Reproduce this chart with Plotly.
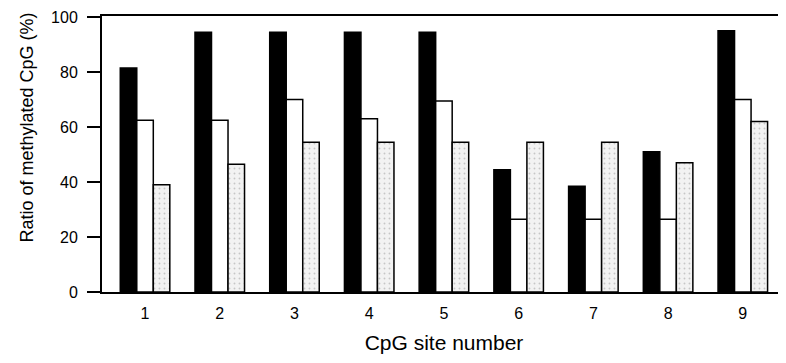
import plotly.graph_objects as go

sites = [1, 2, 3, 4, 5, 6, 7, 8, 9]
site_labels = ["1", "2", "3", "4", "5", "6", "7", "8", "9"]
black_vals = [81.5, 94.5, 94.5, 94.5, 94.5, 44.5, 38.5, 51, 95]
white_vals = [62.5, 62.5, 70, 63, 69.5, 26.5, 26.5, 26.5, 70]
gray_vals = [39, 46.5, 54.5, 54.5, 54.5, 54.5, 54.5, 47, 62]
y_ticks = [0, 20, 40, 60, 80, 100]

FONT = "Liberation Sans, Arial, Helvetica, sans-serif"
edge = dict(color="black", width=1.5)

fig = go.Figure()
fig.add_trace(go.Bar(x=sites, y=black_vals, marker=dict(color="black", line=edge), name="a"))
fig.add_trace(go.Bar(x=sites, y=white_vals, marker=dict(color="white", line=edge), name="b"))
fig.add_trace(go.Bar(x=sites, y=gray_vals,
                     marker=dict(color="#efefef", line=edge,
                                 pattern=dict(shape=".", fgcolor="#9a9a9a", bgcolor="#f2f2f2",
                                              size=5, solidity=0.12)),
                     name="c"))

# page body has an 8px default margin; size the figure so nothing overflows the window
fig.update_layout(
    width=778, height=347,
    margin=dict(l=94, r=0, t=8, b=63, autoexpand=False),
    paper_bgcolor="white", plot_bgcolor="white",
    barmode="group", bargap=0.337, bargroupgap=0,
    showlegend=False,
    font=dict(family=FONT, color="black"),
    annotations=[dict(text="Ratio of methylated CpG (%)", textangle=-90,
                      xref="paper", yref="paper", x=-0.11, y=0.595,
                      xanchor="center", yanchor="middle", showarrow=False,
                      font=dict(size=18, family=FONT))],
)
fig.update_xaxes(
    range=[0.424, 9.578], tickvals=sites, ticktext=site_labels,
    showline=True, linecolor="black", linewidth=2, mirror=True,
    ticks="outside", ticklen=6, tickcolor="rgba(0,0,0,0)",
    showgrid=False, zeroline=False, automargin=False,
    tickfont=dict(size=16, family=FONT),
    title=dict(text="CpG site number", font=dict(size=21, family=FONT), standoff=14),
)
fig.update_yaxes(
    range=[0, 100.4], tickvals=y_ticks,
    showline=True, linecolor="black", linewidth=2,
    ticks="outside", ticklen=13, tickwidth=1.5, tickcolor="black",
    ticklabelstandoff=6,
    showgrid=False, zeroline=False, automargin=False,
    tickfont=dict(size=16, family=FONT),
)

fig.write_html("out.html")
